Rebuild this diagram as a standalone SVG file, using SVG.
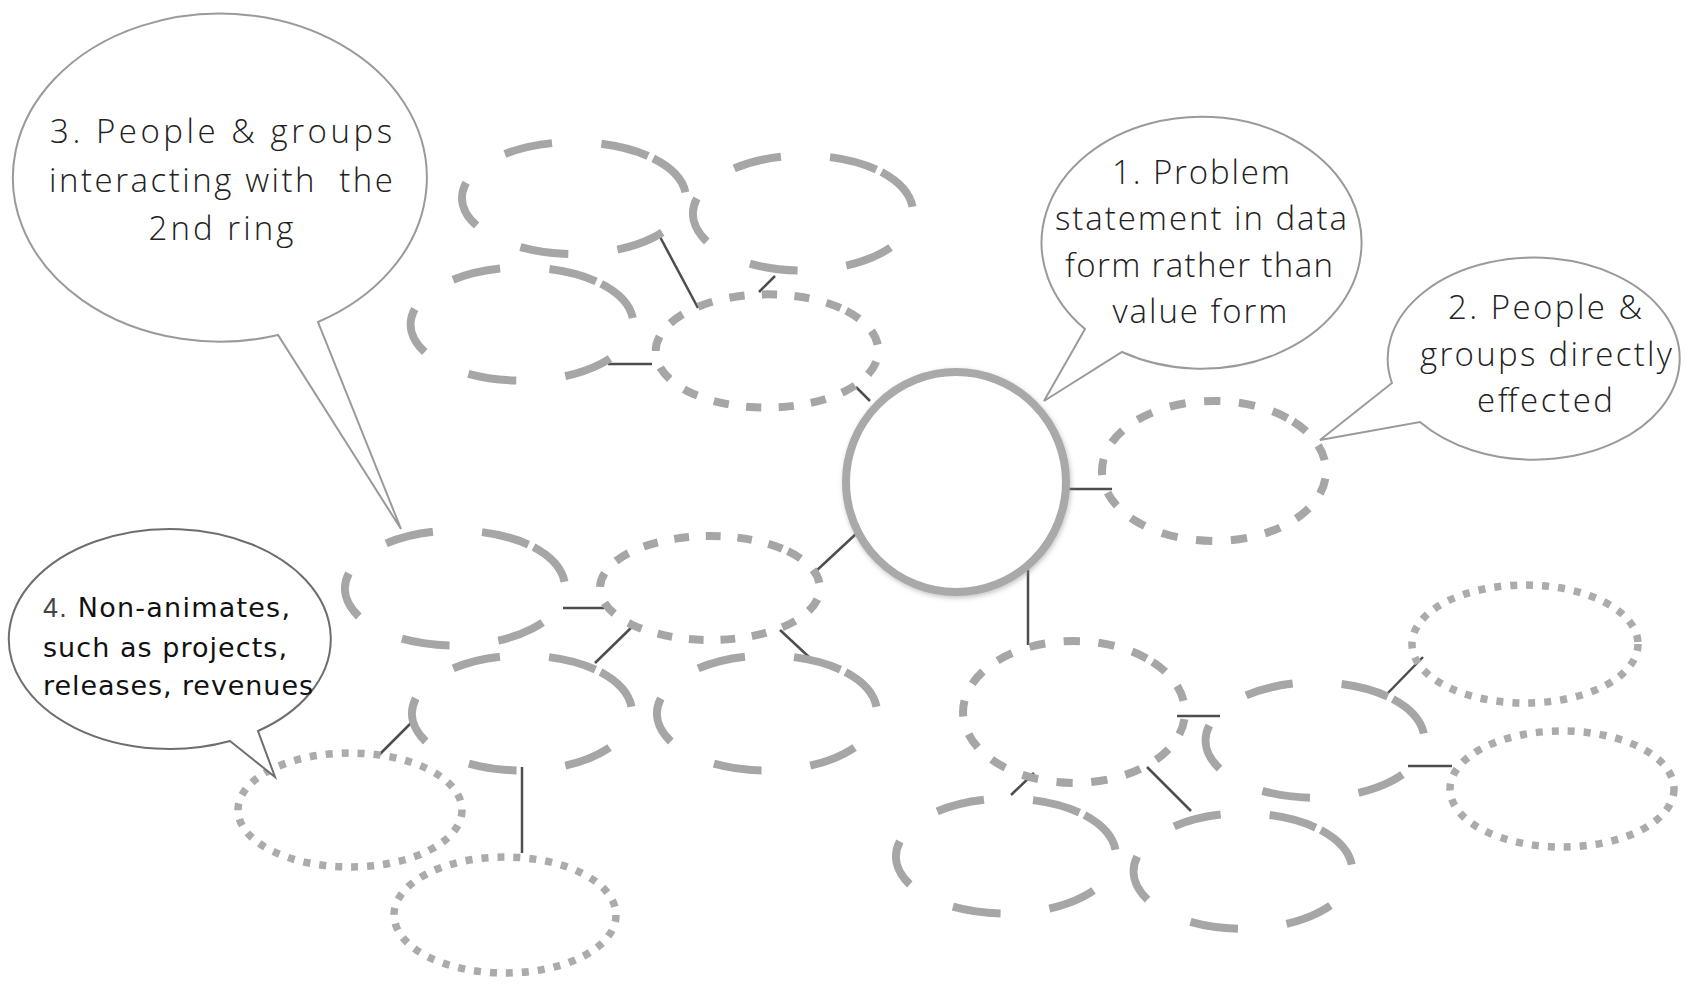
<svg xmlns="http://www.w3.org/2000/svg" width="1685" height="984" viewBox="0 0 1685 984">
  <style>
    /* every dashed ring is drawn as two half arcs starting at its upper-right shoulder */
    .ring3 { fill: none; stroke: #a6a6a6; stroke-width: 8; stroke-dasharray: 8.9 9.1; }
    .ring2 { fill: none; stroke: #a6a6a6; stroke-width: 8; stroke-dasharray: 2.8 3.2; }
    .ring4 { fill: none; stroke: #ababab; stroke-width: 7.5; stroke-dasharray: 7 9; }
    .link { fill: none; stroke: #4d4d4d; stroke-width: 2.5; }
    .bubble { fill: #fff; stroke: #9a9a9a; stroke-width: 2; }
    .bubble-dark { fill: #fff; stroke: #6e6e6e; stroke-width: 2; }
    .label { font-family: "Open Sans", "Liberation Sans", sans-serif; font-weight: 300; font-size: 33px; fill: #222; text-anchor: middle; }
    .note { font-family: "DejaVu Sans", "Liberation Sans", sans-serif; font-size: 27px; fill: #111; }
    .num { font-family: "Liberation Sans", sans-serif; fill: #444; }
  </style>
  <defs>
    <filter id="soft-shadow" x="-20%" y="-20%" width="140%" height="140%">
      <feGaussianBlur in="SourceAlpha" stdDeviation="2.5" result="blur"/>
      <feOffset in="blur" dx="1" dy="2" result="off"/>
      <feFlood flood-color="#888" flood-opacity="0.5"/>
      <feComposite in2="off" operator="in" result="shadow"/>
      <feMerge>
        <feMergeNode in="shadow"/>
        <feMergeNode in="SourceGraphic"/>
      </feMerge>
    </filter>
  </defs>

  <rect width="1685" height="984" fill="#fff"/>

  <!-- connectors -->
  <g id="connectors">
    <line class="link" x1="659" y1="235" x2="698" y2="308"/>
    <line class="link" x1="759" y1="292" x2="775" y2="276"/>
    <line class="link" x1="608" y1="364" x2="652" y2="364"/>
    <line class="link" x1="856" y1="387" x2="870" y2="401"/>
    <line class="link" x1="1068" y1="489" x2="1112" y2="489"/>
    <line class="link" x1="857" y1="533" x2="815" y2="572"/>
    <line class="link" x1="1028" y1="570" x2="1028" y2="645"/>
    <line class="link" x1="563" y1="608" x2="604" y2="608"/>
    <line class="link" x1="635" y1="624" x2="595" y2="663"/>
    <line class="link" x1="780" y1="630" x2="809" y2="657"/>
    <line class="link" x1="411" y1="723" x2="377" y2="757"/>
    <line class="link" x1="522" y1="767" x2="522" y2="853"/>
    <line class="link" x1="1177" y1="716" x2="1220" y2="716"/>
    <line class="link" x1="1034" y1="773" x2="1011" y2="795"/>
    <line class="link" x1="1147" y1="767" x2="1191" y2="811"/>
    <line class="link" x1="1423" y1="657" x2="1385" y2="696"/>
    <line class="link" x1="1408" y1="766" x2="1452" y2="766"/>
  </g>

  <!-- centre: the problem statement -->
  <g id="core">
    <circle cx="956" cy="482" r="110" fill="#fff" stroke="#a9a9a9" stroke-width="8" filter="url(#soft-shadow)"/>
  </g>

  <!-- ring 2: directly affected -->
  <g id="node-q"><path class="ring2" pathLength="100" d="M 1293.2 421.5 A 112 70 0 0 1 1134.8 520.5 A 112 70 0 0 1 1293.2 421.5"/></g>
  <g id="node-d"><path class="ring2" pathLength="100" d="M 846.2 310.7 A 112 57 0 0 1 687.8 391.3 A 112 57 0 0 1 846.2 310.7"/></g>
  <g id="node-f"><path class="ring2" pathLength="100" d="M 787.8 551.2 A 110 52 0 0 1 632.2 624.8 A 110 52 0 0 1 787.8 551.2"/></g>
  <g id="node-k"><path class="ring2" pathLength="100" d="M 1152.5 661.8 A 111 71 0 0 1 995.5 762.2 A 111 71 0 0 1 1152.5 661.8"/></g>

  <!-- ring 3: interacting with ring 2 -->
  <g id="node-a"><path class="ring3" pathLength="100" d="M 653.2 158.4 A 112 56 0 0 1 494.8 237.6 A 112 56 0 0 1 653.2 158.4"/></g>
  <g id="node-b"><path class="ring3" pathLength="100" d="M 881.5 172 A 111 58 0 0 1 724.5 254 A 111 58 0 0 1 881.5 172"/></g>
  <g id="node-c"><path class="ring3" pathLength="100" d="M 601.2 283.7 A 112 57 0 0 1 442.8 364.3 A 112 57 0 0 1 601.2 283.7"/></g>
  <g id="node-e"><path class="ring3" pathLength="100" d="M 533.5 547 A 111 58 0 0 1 376.5 629 A 111 58 0 0 1 533.5 547"/></g>
  <g id="node-g"><path class="ring3" pathLength="100" d="M 600.5 672 A 111 58 0 0 1 443.5 754 A 111 58 0 0 1 600.5 672"/></g>
  <g id="node-h"><path class="ring3" pathLength="100" d="M 845.5 672 A 111 58 0 0 1 688.5 754 A 111 58 0 0 1 845.5 672"/></g>
  <g id="node-l"><path class="ring3" pathLength="100" d="M 1392.8 699 A 110 58 0 0 1 1237.2 781 A 110 58 0 0 1 1392.8 699"/></g>
  <g id="node-o"><path class="ring3" pathLength="100" d="M 1084.5 815 A 111 58 0 0 1 927.5 897 A 111 58 0 0 1 1084.5 815"/></g>
  <g id="node-p"><path class="ring3" pathLength="100" d="M 1320.8 830 A 110 58 0 0 1 1165.2 912 A 110 58 0 0 1 1320.8 830"/></g>

  <!-- ring 4: non-animates -->
  <g id="node-i"><ellipse class="ring4" cx="350" cy="810" rx="112" ry="57"/></g>
  <g id="node-j"><ellipse class="ring4" cx="505" cy="915" rx="111" ry="58"/></g>
  <g id="node-m"><ellipse class="ring4" cx="1525" cy="644" rx="113" ry="59"/></g>
  <g id="node-n"><ellipse class="ring4" cx="1562" cy="789" rx="112" ry="58"/></g>

  <!-- speech bubbles -->
  <g id="callout-1">
    <path class="bubble" d="M 1122 352 A 160 126 0 1 0 1085 329 L 1044 401 Z"/>
    <text class="label" x="1201" y="184" textLength="178" lengthAdjust="spacing">1. Problem</text>
    <text class="label" x="1201" y="230" textLength="292" lengthAdjust="spacing">statement in data</text>
    <text class="label" x="1199" y="277" textLength="268" lengthAdjust="spacing">form rather than</text>
    <text class="label" x="1200" y="323" textLength="175" lengthAdjust="spacing">value form</text>
  </g>

  <g id="callout-2">
    <path class="bubble" d="M 1420 422 A 146 101 0 1 0 1392 383 L 1320 440 Z"/>
    <text class="label" x="1545" y="319" textLength="194" lengthAdjust="spacing">2. People &amp;</text>
    <text class="label" x="1546" y="366" textLength="252" lengthAdjust="spacing">groups directly</text>
    <text class="label" x="1545" y="412" textLength="136" lengthAdjust="spacing">effected</text>
  </g>

  <g id="callout-3">
    <path class="bubble" d="M 318 322 A 207 164 0 1 0 278 335 L 401 529 Z"/>
    <text class="label" x="221" y="143" textLength="342" lengthAdjust="spacing">3. People &amp; groups</text>
    <text class="label" x="221" y="192" textLength="344" lengthAdjust="spacing" xml:space="preserve" style="white-space:pre">interacting with  the</text>
    <text class="label" x="221" y="240" textLength="145" lengthAdjust="spacing">2nd ring</text>
  </g>

  <g id="callout-4">
    <path class="bubble-dark" d="M 258 731 A 161 110 0 1 0 230 741 L 275 777 Z"/>
    <text class="note" x="43" y="617" textLength="247" lengthAdjust="spacing"><tspan class="num">4.</tspan> Non-animates,</text>
    <text class="note" x="43" y="657" textLength="244" lengthAdjust="spacing">such as projects,</text>
    <text class="note" x="43" y="695" textLength="270" lengthAdjust="spacing">releases, revenues</text>
  </g>
</svg>
